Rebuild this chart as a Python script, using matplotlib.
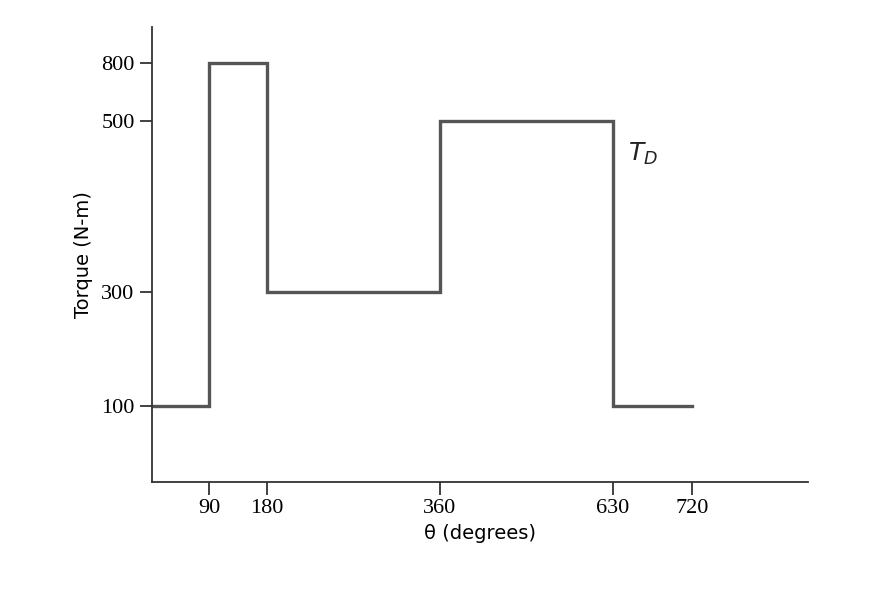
import numpy as np
import matplotlib
matplotlib.use("Agg")
import matplotlib.pyplot as plt

# torque profile (schematic, axes not to scale)
theta = [0, 90, 90, 180, 180, 360, 360, 630, 630, 720]
torque = [100, 100, 800, 800, 300, 300, 500, 500, 100, 100]
x_ticks = [90, 180, 360, 630, 720]
y_ticks = [100, 300, 500, 800]

# schematic axis positions (data value -> screen pixel as in the figure)
x_data = [0, 90, 180, 360, 630, 720, 900]
x_pix = [152, 209, 267, 440, 613, 692, 808]
y_data = [0, 100, 300, 500, 800, 900]
y_pix = [-482, -406, -292, -121, -63, -27]


def fx(v):
    return np.interp(v, x_data, x_pix)


def ix(v):
    return np.interp(v, x_pix, x_data)


def fy(v):
    return np.interp(v, y_data, y_pix)


def iy(v):
    return np.interp(v, y_pix, y_data)


fig = plt.figure(figsize=(8.74, 5.9), dpi=100)
ax = fig.add_axes([152 / 874, 1 - 482 / 590, (808 - 152) / 874, (482 - 27) / 590])
ax.set_xscale("function", functions=(fx, ix))
ax.set_yscale("function", functions=(fy, iy))
ax.set_xlim(0, 900)
ax.set_ylim(0, 900)

ax.plot(theta, torque, color="#555555", lw=2.4, solid_joinstyle="miter")

ax.set_xticks(x_ticks)
ax.set_xticklabels([str(t) for t in x_ticks], fontfamily="Liberation Serif", fontsize=16)
ax.set_yticks(y_ticks)
ax.set_yticklabels([str(t) for t in y_ticks], fontfamily="Liberation Serif", fontsize=16)
ax.minorticks_off()
ax.tick_params(direction="out", length=9, width=1.3, color="#333333")

for side in ["top", "right"]:
    ax.spines[side].set_visible(False)
for side in ["left", "bottom"]:
    ax.spines[side].set_linewidth(1.3)
    ax.spines[side].set_color("#333333")

ax.set_xlabel("θ (degrees)", fontsize=14, fontfamily="DejaVu Sans", labelpad=4)
ax.set_ylabel("Torque (N-m)", fontsize=14, fontfamily="DejaVu Sans", labelpad=6)
ax.text(647, 454, "$T_D$", fontsize=18, color="#222222")

fig.savefig("out.png", dpi=100)
